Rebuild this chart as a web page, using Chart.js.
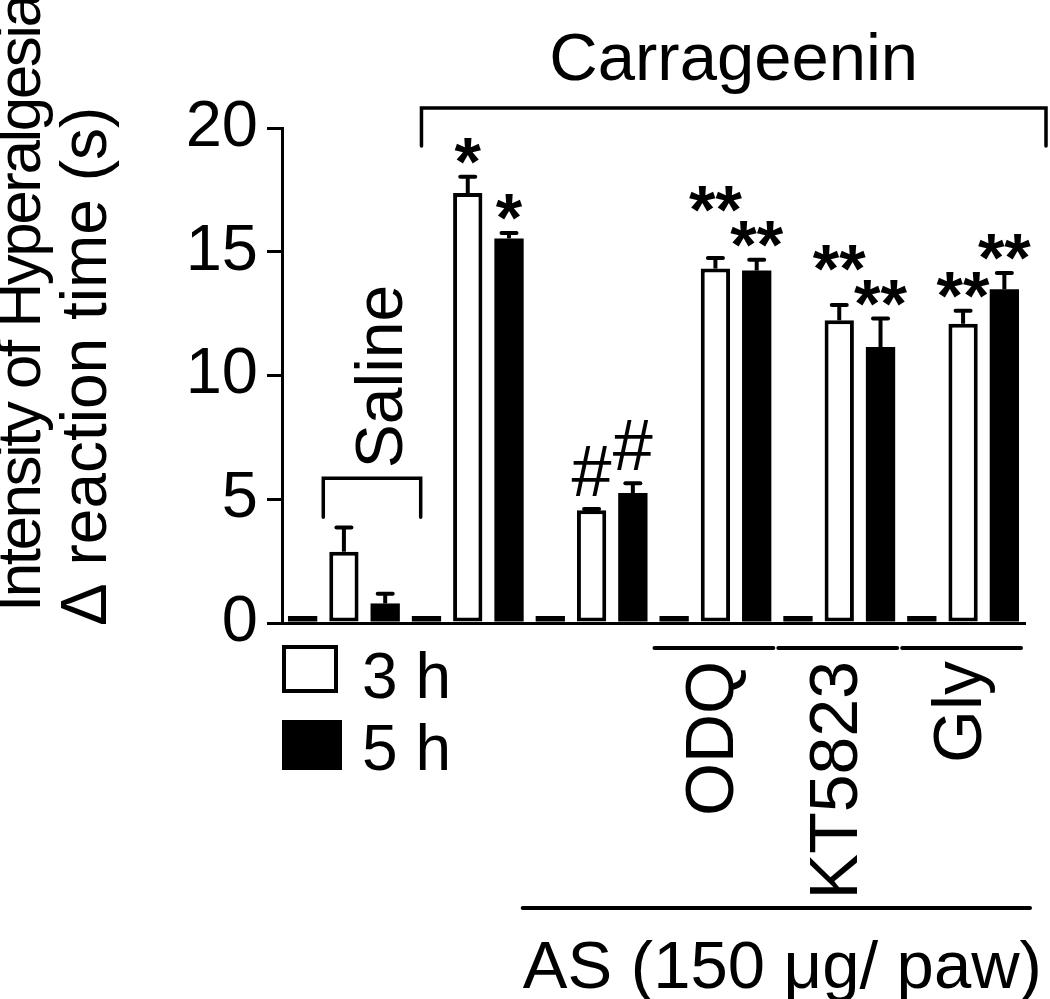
<!DOCTYPE html>
<html>
<head>
<meta charset="utf-8">
<script src="https://cdn.jsdelivr.net/npm/chart.js@4"></script>
<style>
  html, body { margin: 0; padding: 0; background: #fff; }
  #wrap { width: 1050px; height: 999px; position: relative; }
</style>
</head>
<body>
<div id="wrap"><canvas id="c" width="1050" height="999"></canvas></div>
<script>
// ---- data ----
const groups = ['Saline', 'Carrageenin', 'AS', 'AS+ODQ', 'AS+KT5823', 'AS+Gly'];
const seriesNames = ['0 h', '3 h', '5 h'];
const baseline0h = [0, 0, 0, 0, 0, 0];
const values3h = [2.88, 17.37, 4.56, 14.32, 12.23, 12.09];
const values5h = [0.79, 15.54, 5.25, 14.24, 11.15, 13.48];
const sem3h = [0.98, 0.66, 0.05, 0.43, 0.62, 0.53];
const sem5h = [0.39, 0.22, 0.40, 0.44, 1.15, 0.66];
const sig3h = ['', '*', '#', '**', '**', '**'];
const sig5h = ['', '*', '#', '**', '**', '**'];
const yTicks = [0, 5, 10, 15, 20];
const yTitle = ['Intensity of Hyperalgesia', '\u0394 reaction time (s)'];
const subLabels = ['', '', '', 'ODQ', 'KT5823', 'Gly'];
const asLabel = 'AS (150 \u03bcg/ paw)';
const carrLabel = 'Carrageenin';
const salineLabel = 'Saline';

const FONT = '"Liberation Sans", Arial, Helvetica, sans-serif';
const BIG = 66;

const errors = [null, sem3h, sem5h];
const sigs = [null, sig3h, sig5h];

const decor = {
  id: 'decor',
  afterDatasetsDraw(chart) {
    const ctx = chart.ctx;
    const x = chart.scales.x, y = chart.scales.y;
    const area = chart.chartArea;
    ctx.save();
    ctx.strokeStyle = '#000';
    ctx.fillStyle = '#000';

    // error bars (upper only)
    const tops = [[], [], []];
    [1, 2].forEach(di => {
      const meta = chart.getDatasetMeta(di);
      const vals = chart.data.datasets[di].data;
      meta.data.forEach((bar, i) => {
        const yTop = y.getPixelForValue(vals[i] + errors[di][i]);
        tops[di][i] = yTop;
        ctx.lineWidth = 4;
        ctx.lineCap = 'butt';
        ctx.beginPath();
        ctx.moveTo(bar.x, bar.y);
        ctx.lineTo(bar.x, yTop);
        ctx.stroke();
        ctx.lineCap = 'round';
        ctx.beginPath();
        ctx.moveTo(bar.x - 7.5, yTop);
        ctx.lineTo(bar.x + 7.5, yTop);
        ctx.stroke();
      });
    });

    // significance marks with simple stacking to avoid overlap
    ctx.textAlign = 'center';
    ctx.textBaseline = 'alphabetic';
    const gap = 13, sep = 9;
    groups.forEach((g, i) => {
      const labs = [];
      [1, 2].forEach(di => {
        const t = sigs[di][i];
        if (!t) return;
        const f = t.indexOf('#') >= 0 ? '72px ' + FONT : 'bold 68px ' + FONT;
        ctx.font = f;
        const m = ctx.measureText(t);
        const bar = chart.getDatasetMeta(di).data[i];
        const bottom = tops[di][i] - gap;
        labs.push({t, f, x: bar.x, w: m.actualBoundingBoxLeft + m.actualBoundingBoxRight,
          asc: m.actualBoundingBoxAscent, desc: m.actualBoundingBoxDescent, bottom});
      });
      if (labs.length === 2) {
        const [a, b] = labs;
        const hi = a.bottom <= b.bottom ? a : b;
        const lo = hi === a ? b : a;
        const hOverlap = Math.abs(a.x - b.x) < (a.w + b.w) / 2 - 4;
        const loTop = lo.bottom - (lo.asc + lo.desc);
        if (hOverlap && hi.bottom > loTop - sep) hi.bottom = loTop - sep;
      }
      labs.forEach(l => { ctx.font = l.f; ctx.fillText(l.t, l.x, l.bottom - l.desc); });
    });

    // Saline bracket
    const slot = x.getPixelForValue(1) - x.getPixelForValue(0);
    const sx = x.getPixelForValue(0);
    const sl = sx - slot / 6, sr = sx + slot * 0.62;
    const sy = y.getPixelForValue(5.85);
    ctx.lineWidth = 3.5;
    ctx.lineCap = 'round';
    ctx.lineJoin = 'miter';
    ctx.beginPath();
    ctx.moveTo(sl, sy + 39);
    ctx.lineTo(sl, sy);
    ctx.lineTo(sr, sy);
    ctx.lineTo(sr, sy + 39);
    ctx.stroke();
    ctx.save();
    ctx.translate(sx + slot * 0.47, sy - 10);
    ctx.rotate(-Math.PI / 2);
    ctx.textAlign = 'left';
    ctx.font = BIG + 'px ' + FONT;
    ctx.fillText(salineLabel, 0, 0);
    ctx.restore();

    // Carrageenin bracket
    const cl = x.getPixelForValue(1) - slot / 3 - 5;
    const cr = area.right + 21;
    const cy = 108;
    ctx.beginPath();
    ctx.moveTo(cl, cy + 38);
    ctx.lineTo(cl, cy);
    ctx.lineTo(cr, cy);
    ctx.lineTo(cr, cy + 38);
    ctx.stroke();
    ctx.textAlign = 'center';
    ctx.textBaseline = 'alphabetic';
    ctx.font = '67px ' + FONT;
    ctx.fillText(carrLabel, (cl + cr) / 2, cy - 28);

    // sub-group lines and rotated labels
    const ly = area.bottom + 25;
    ctx.lineWidth = 4;
    subLabels.forEach((t, i) => {
      if (!t) return;
      const c = x.getPixelForValue(i);
      ctx.beginPath();
      ctx.moveTo(c - slot / 2 + 1, ly);
      ctx.lineTo(c + slot / 2 - 4, ly);
      ctx.stroke();
      ctx.save();
      ctx.translate(c + 18, ly + 13);
      ctx.rotate(-Math.PI / 2);
      ctx.textAlign = 'right';
      ctx.textBaseline = 'alphabetic';
      ctx.font = '68px ' + FONT;
      ctx.fillText(t, 0, 0);
      ctx.restore();
    });

    // AS line and label
    const al = x.getPixelForValue(2) - slot / 2 - 7;
    const ar = x.getPixelForValue(5) + slot / 2 + 5;
    const ay = 908;
    ctx.beginPath();
    ctx.moveTo(al, ay);
    ctx.lineTo(ar, ay);
    ctx.stroke();
    ctx.textAlign = 'center';
    ctx.font = '67px ' + FONT;
    ctx.fillText(asLabel, (al + ar) / 2 + 6, 988);

    // legend
    ctx.textAlign = 'left';
    ctx.lineWidth = 4;
    ctx.strokeRect(area.left + 2, 647, 52, 44);
    ctx.fillRect(area.left, 720, 60, 50);
    ctx.font = '64px ' + FONT;
    ctx.fillText(seriesNames[1], area.left + 80, 698);
    ctx.fillText(seriesNames[2], area.left + 80, 770);

    // y title (two lines, rotated)
    ctx.textAlign = 'left';
    [[yTitle[0], 40, 612, '-2.5px'], [yTitle[1], 106, 626, '0px']].forEach(([t, bx, by, ls]) => {
      ctx.save();
      ctx.font = '62px ' + FONT;
      if (t === yTitle[1]) ctx.font = '64px ' + FONT;
      ctx.letterSpacing = ls;
      ctx.translate(bx, by);
      ctx.rotate(-Math.PI / 2);
      ctx.fillText(t, 0, 0);
      ctx.restore();
    });
    ctx.restore();
  }
};

new Chart(document.getElementById('c'), {
  type: 'bar',
  data: {
    labels: groups,
    datasets: [
      { label: seriesNames[0], data: baseline0h, backgroundColor: '#000', borderWidth: 0, minBarLength: 7 },
      { label: seriesNames[1], data: values3h, backgroundColor: '#fff', borderColor: '#000', borderWidth: 4, borderSkipped: false },
      { label: seriesNames[2], data: values5h, backgroundColor: '#000', borderColor: '#000', borderWidth: 0 }
    ]
  },
  options: {
    responsive: false,
    animation: false,
    devicePixelRatio: 1,
    layout: { padding: { top: 128, bottom: 376, left: 0, right: 25 } },
    datasets: { bar: { categoryPercentage: 1.0, barPercentage: 0.71 } },
    plugins: { legend: { display: false }, tooltip: { enabled: false } },
    scales: {
      x: {
        grid: { display: false },
        border: { display: true, color: '#000', width: 3 },
        ticks: { display: false },
        afterFit(s) { s.height = 0; }
      },
      y: {
        min: 0, max: 20,
        afterBuildTicks(s) { s.ticks = yTicks.map(v => ({ value: v })); },
        grid: { drawOnChartArea: false, drawTicks: true, tickLength: 15, lineWidth: 3, color: '#000' },
        border: { display: true, color: '#000', width: 3 },
        ticks: { color: '#000', padding: 9, font: { family: FONT, size: 65 } },
        afterFit(s) { s.width = 282; }
      }
    }
  },
  plugins: [decor]
});
</script>
</body>
</html>
